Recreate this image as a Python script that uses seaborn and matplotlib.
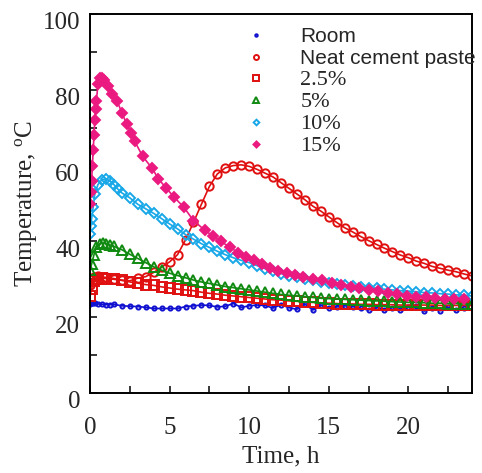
import numpy as np
import pandas as pd
import matplotlib
matplotlib.use("Agg")
import matplotlib.pyplot as plt
import matplotlib.transforms as mtransforms
from matplotlib.ticker import MultipleLocator
import seaborn as sns

# readings taken off the reference chart (time in h, temperature in deg C)
room_t = [0, 0.1, 0.2, 0.3, 0.5, 0.75, 1.0, 1.25, 1.5, 2.0, 2.5, 3.0, 3.5, 4.0, 4.5, 5.0, 5.5, 6.0,
          6.5, 7.0, 7.5, 8.0, 8.5, 9.0, 9.5, 10.0, 10.5, 11.0, 11.5, 12.0, 12.5, 13.0, 13.5, 14.0,
          14.5, 15.0, 15.5, 16.0, 16.5, 17.0, 17.5, 18.0, 18.5, 19.0, 19.5, 20.0, 20.5, 21.0, 21.5,
          22.0, 22.5, 23.0, 23.5]
room_T = [23.6, 23.8, 23.8, 23.7, 23.5, 23.4, 23.3, 23.3, 23.4, 23.0, 22.9, 22.8, 22.6, 22.3, 22.3,
          22.3, 22.3, 22.8, 23.0, 23.2, 23.1, 22.7, 22.9, 23.6, 22.6, 23.0, 23.2, 23.1, 22.4, 23.3,
          22.5, 22.1, 23.5, 21.9, 23.2, 22.5, 22.7, 23.0, 22.8, 22.3, 21.9, 22.6, 22.0, 22.5, 21.9,
          22.8, 23.0, 21.6, 22.4, 21.7, 22.6, 21.9, 22.4]

neat_t = [0, 0.25, 0.5, 1.0, 1.5, 2.0, 2.5, 3.0, 3.5, 4.0, 4.5, 5.0, 5.5, 6.0, 6.5, 7.0, 7.5, 8.0,
          8.5, 9.0, 9.5, 10.0, 10.5, 11.0, 11.5, 12.0, 12.5, 13.0, 13.5, 14.0, 14.5, 15.0, 15.5,
          16.0, 16.5, 17.0, 17.5, 18.0, 18.5, 19.0, 19.5, 20.0, 20.5, 21.0, 21.5, 22.0, 22.5,
          23.0, 23.5, 24.0]
neat_T = [28.5, 30.5, 30.8, 30.5, 30.2, 29.8, 29.6, 30.3, 30.7, 31.8, 33.2, 34.6, 36.5, 40.4, 45.0,
          49.8, 54.5, 57.8, 59.4, 60.0, 60.2, 59.8, 59.0, 58.0, 57.0, 55.5, 54.0, 52.5, 51.0, 49.3,
          48.0, 46.5, 45.0, 43.6, 42.5, 41.3, 40.2, 39.2, 38.2, 37.3, 36.4, 35.7, 34.8, 34.2, 33.4,
          32.9, 32.4, 32.0, 31.4, 30.9]

p25_t = [0, 0.1, 0.25, 0.5, 0.75, 1.0, 1.5, 2.0, 2.5, 3.0, 3.5, 4.0, 4.5, 5.0, 5.5, 6.0, 6.5, 7.0,
         7.5, 8.0, 8.5, 9.0, 9.5, 10.0, 10.5, 11.0, 11.5, 12.0, 12.5, 13.0, 13.5, 14.0, 14.5, 15.0,
         15.5, 16.0, 16.5, 17.0, 17.5, 18.0, 18.5, 19.0, 19.5, 20.0, 20.5, 21.0, 21.5, 22.0, 22.5,
         23.0, 23.5, 24.0]
p25_T = [25.5, 27.5, 29.5, 30.2, 30.3, 30.2, 30.0, 29.7, 29.3, 29.0, 28.6, 28.4, 28.0, 27.7, 27.4,
         27.2, 27.0, 26.6, 26.3, 26.1, 25.8, 25.6, 25.4, 25.2, 25.0, 24.8, 24.6, 24.5, 24.3, 24.2,
         24.0, 23.9, 23.8, 23.7, 23.6, 23.5, 23.5, 23.4, 23.4, 23.3, 23.3, 23.3, 23.2, 23.2, 23.2,
         23.2, 23.2, 23.1, 23.1, 23.1, 23.1, 23.1]

p5_t = [0, 0.1, 0.25, 0.4, 0.6, 0.8, 1.0, 1.25, 1.5, 2.0, 2.5, 3.0, 3.5, 4.0, 4.5, 5.0, 5.5, 6.0,
        6.5, 7.0, 7.5, 8.0, 8.5, 9.0, 9.5, 10.0, 10.5, 11.0, 11.5, 12.0, 12.5, 13.0, 13.5, 14.0,
        14.5, 15.0, 15.5, 16.0, 16.5, 17.0, 17.5, 18.0, 18.5, 19.0, 19.5, 20.0, 20.5, 21.0, 21.5,
        22.0, 22.5, 23.0, 23.5, 24.0]
p5_T = [32.5, 34.0, 36.5, 38.5, 39.3, 39.6, 39.4, 39.1, 38.7, 37.8, 36.6, 35.5, 34.4, 33.3, 32.4,
        31.6, 31.0, 30.4, 29.8, 29.3, 28.9, 28.5, 28.1, 27.8, 27.5, 27.2, 26.9, 26.6, 26.3, 26.0,
        25.8, 25.6, 25.4, 25.2, 25.0, 24.9, 24.8, 24.7, 24.6, 24.5, 24.4, 24.3, 24.2, 24.1, 24.0,
        23.9, 23.9, 23.8, 23.7, 23.7, 23.6, 23.6, 23.5, 23.5]

p10_t = [0, 0.05, 0.1, 0.2, 0.3, 0.5, 0.75, 1.0, 1.25, 1.5, 1.75, 2.0, 2.5, 3.0, 3.5, 4.0, 4.5, 5.0,
         5.5, 6.0, 6.5, 7.0, 7.5, 8.0, 8.5, 9.0, 9.5, 10.0, 10.5, 11.0, 11.5, 12.0, 12.5, 13.0,
         13.5, 14.0, 14.5, 15.0, 15.5, 16.0, 16.5, 17.0, 17.5, 18.0, 18.5, 19.0, 19.5, 20.0, 20.5,
         21.0, 21.5, 22.0, 22.5, 23.0, 23.5, 24.0]
p10_T = [42.0, 44.0, 46.0, 49.0, 52.5, 55.0, 56.3, 56.5, 56.0, 55.0, 53.8, 52.8, 51.5, 49.8, 48.6,
         47.4, 46.0, 44.6, 43.3, 41.8, 40.6, 39.4, 38.4, 37.4, 36.5, 35.7, 35.0, 34.4, 33.6, 32.8,
         32.1, 31.5, 31.0, 30.5, 30.1, 29.7, 29.4, 29.1, 28.8, 28.5, 28.3, 28.0, 27.8, 27.6, 27.4,
         27.2, 27.0, 26.9, 26.7, 26.5, 26.4, 26.2, 26.1, 25.9, 25.8, 25.6]

p15_t = [0, 0.05, 0.1, 0.15, 0.2, 0.25, 0.3, 0.35, 0.4, 0.5, 0.6, 0.75, 0.9, 1.1, 1.4, 1.7, 2.0,
         2.3, 2.6, 2.8, 3.3, 3.9, 4.3, 4.8, 5.3, 5.9, 6.5, 7.2, 7.7, 8.2, 8.8, 9.3, 9.8, 10.3,
         10.8, 11.3, 11.8, 12.4, 12.9, 13.4, 14.0, 14.6, 15.2, 15.8, 16.4, 16.9, 17.5, 18.1,
         18.7, 19.3, 19.9, 20.5, 21.1, 21.7, 22.3, 22.9, 23.5]
p15_T = [50.0, 53.0, 56.0, 60.0, 64.0, 68.0, 72.0, 75.0, 77.0, 81.5, 83.0, 83.2, 82.5, 81.0, 79.0,
         77.0, 74.0, 71.0, 68.6, 66.5, 62.5, 59.3, 56.5, 54.0, 51.6, 49.0, 45.5, 43.0, 41.5, 40.0,
         38.5, 37.0, 36.0, 35.0, 34.0, 33.0, 32.2, 31.7, 31.1, 30.6, 30.1, 29.7, 29.1, 28.6, 28.1,
         27.7, 27.2, 26.8, 26.4, 26.0, 25.7, 25.4, 25.2, 25.0, 24.9, 24.8, 24.7]

labels = ["Room", "Neat cement paste", "2.5%", "5%", "10%", "15%"]

sns.set_style("ticks")
plt.rcParams["font.family"] = ["Liberation Serif", "DejaVu Serif"]
plt.rcParams["mathtext.fontset"] = "stix"

fig = plt.figure(figsize=(4.82, 4.73), dpi=100)
fig.subplots_adjust(left=90/482, right=472/482, bottom=1-393/473, top=1-14/473)
ax = fig.add_subplot(111)

series = [
    (room_t, room_T, "#1010d0", "o", 3.0, False),
    (neat_t, neat_T, "#e01010", "o", 6.0, False),
    (p25_t, p25_T, "#e01010", "s", 6.5, False),
    (p5_t, p5_T, "#108a10", "^", 6.5, False),
    (p10_t, p10_T, "#18a8e8", "D", 4.8, False),
    (p15_t, p15_T, "#ea1a80", "D", 5.2, True),
]

for (t, T, c, m, ms, filled), lab in zip(series, labels):
    df = pd.DataFrame({"Time": t, "Temp": T})
    sns.lineplot(data=df, x="Time", y="Temp", ax=ax, color=c, marker=m, markersize=ms,
                 markerfacecolor=c if filled else "none", markeredgecolor=c,
                 markeredgewidth=1.4, linewidth=1.2, label=lab, sort=False, errorbar=None)

ax.set_xlim(0, 24)
ax.set_ylim(0, 100)
ax.xaxis.set_major_locator(MultipleLocator(5))
ax.xaxis.set_minor_locator(MultipleLocator(2.5))
ax.yaxis.set_major_locator(MultipleLocator(20))
ax.yaxis.set_minor_locator(MultipleLocator(10))
ax.tick_params(which="both", direction="in", top=False, right=False, width=1.3, length=5,
               labelsize=18)
ax.tick_params(axis="x", pad=17)
ax.tick_params(axis="y", pad=7)
for s in ax.spines.values():
    s.set_linewidth(1.4)
    s.set_color("black")

ax.set_xlabel("Time, h", fontsize=18, labelpad=5)
ax.set_ylabel("Temperature, $\\mathregular{^o}$C", fontsize=18, labelpad=3)

# y tick labels sit a little below their ticks in the original
off = mtransforms.ScaledTranslation(0, -5/72, fig.dpi_scale_trans)
for lbl in ax.get_yticklabels():
    lbl.set_transform(lbl.get_transform() + off)

leg = ax.legend(loc="upper left", bbox_to_anchor=(246/482, 1-27/473),
                bbox_transform=fig.transFigure, frameon=False, fontsize=14,
                handlelength=1.0, handletextpad=1.8, labelspacing=0.15, markerscale=0.6,
                borderpad=0, borderaxespad=0)
for h in leg.legend_handles:
    h.set_linestyle("none")
for i, txt in enumerate(leg.get_texts()):
    if i < 2:
        txt.set_fontproperties({"family": "Liberation Sans", "size": 15})
    else:
        txt.set_fontproperties({"family": "Liberation Serif", "size": 16})

fig.savefig("out.png", dpi=100)
